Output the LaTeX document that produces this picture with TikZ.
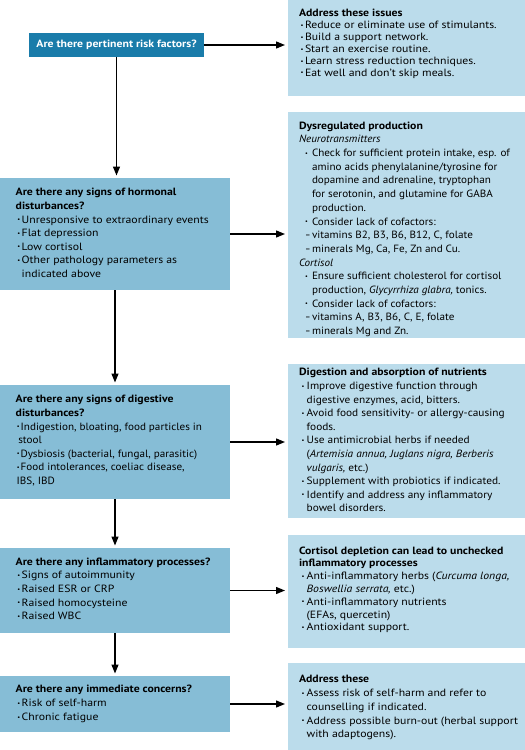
\documentclass[tikz,border=0pt]{standalone}
\usepackage{fontspec}
\setmainfont{PT Sans}[FakeStretch=1.12]
\newfontfamily\fsA{PT Sans}[FakeStretch=1.06]
\newfontfamily\fsB{PT Sans}[FakeStretch=1.08]
\usetikzlibrary{arrows.meta}
\definecolor{darkb}{RGB}{26,124,170}
\definecolor{midb}{RGB}{134,189,214}
\definecolor{lightb}{RGB}{187,220,235}
\newlength\bulOff
\newlength\bulW
\newlength\totOff
\newcommand\bulg{\raisebox{0.25ex}{\scalebox{0.55}{\textbullet}}}
\newcommand\Lh[1]{\hbox{#1}}
\newcommand\Lb[1]{\hbox{\hskip\bulOff\hbox to \bulW{\bulg\hss}#1}}
\newcommand\Lc[1]{\hbox{\hskip\totOff #1}}
\newcommand\Ld[1]{\hbox{\hskip\bulOff\hbox to \bulW{\scalebox{0.75}[1]{–}\hss}#1}}
\newcommand\Lx[2]{\hbox{\hskip#1pt #2}}
\newcommand\txtblk[4]{\vtop{\fontsize{10.5pt}{#1pt}\selectfont
  \setlength\bulOff{#2pt}\setlength\totOff{#3pt}%
  \setlength\bulW{\dimexpr\totOff-\bulOff\relax}%
  #4}}
\begin{document}
\begin{tikzpicture}[x=1pt,y=-1pt,
  box/.style={anchor=north west, inner sep=0pt, outer sep=0pt, draw=none},
  rbox/.style={box, fill=lightb},
  lbox/.style={box, fill=midb},
  tbox/.style={box, fill=darkb, text=white, font=\fontsize{10.5pt}{12pt}\selectfont\bfseries},
  txt/.style={anchor=base west, inner sep=0pt, outer sep=0pt},
  conn/.style={line width=1.3pt, -{Triangle[length=9pt,width=7pt]}},
]
\useasboundingbox (0,0) rectangle (525,750);
% right boxes
\node[rbox, minimum width=237pt, minimum height=96pt] (R1) at (288,0) {};
\node[rbox, minimum width=237pt, minimum height=226pt] (R2) at (288,112) {};
\node[rbox, minimum width=237pt, minimum height=154pt] (R3) at (288,364) {};
\node[rbox, minimum width=237pt, minimum height=113pt] (R4) at (288,535) {};
\node[rbox, minimum width=237pt, minimum height=87pt] (R5) at (288,663) {};
% left boxes
\node[tbox, minimum width=175pt, minimum height=24pt] (T) at (29,33) {Are there pertinent risk factors?};
\node[lbox, minimum width=230pt, minimum height=112pt] (H) at (0,178) {};
\node[lbox, minimum width=230pt, minimum height=114pt] (D) at (0,385) {};
\node[lbox, minimum width=230pt, minimum height=85pt] (I) at (0,548) {};
\node[lbox, minimum width=230pt, minimum height=56pt] (M) at (0,676) {};
% connectors
\draw[conn, shorten >=3pt] (T.east) -- (T.east -| R1.west);
\draw[conn, shorten >=3pt] (H.east) -- (H.east -| R2.west);
\draw[conn, shorten >=3pt] (D.east) -- (D.east -| R3.west);
\draw[conn, shorten >=3pt] (I.east) -- (I.east -| R4.west);
\draw[conn, shorten >=3pt] (M.east) -- (M.east -| R5.west);
\draw[conn, shorten >=2.5pt] (T.south) -- (T.south |- H.north);
\draw[conn, shorten >=2.5pt] (H.south) -- (D.north);
\draw[conn, shorten >=2.5pt] (D.south) -- (I.north);
\draw[conn, shorten >=2.5pt] (I.south) -- (M.north);
% right texts
\node[txt] (tR1) at (299,16.8) {\txtblk{11.9}{1.7}{6}{%
\Lh{\textbf{Address these issues}}
\Lb{Reduce or eliminate use of stimulants.}
\Lb{Build a support network.}
\Lb{Start an exercise routine.}
\Lb{Learn stress reduction techniques.}
\Lb{Eat well and don’t skip meals.}}};
\node[txt] (tR2) at (299,129.2) {\txtblk{13.69}{6}{13}{%
\Lh{\textbf{Dysregulated production}}
\fsA
\Lh{\textit{Neurotransmitters}}
\Lb{Check for sufficient protein intake, esp. of}
\Lc{amino acids phenylalanine/tyrosine for}
\Lc{dopamine and adrenaline, tryptophan}
\Lc{for serotonin, and glutamine for GABA}
\Lc{production.}
\Lb{Consider lack of cofactors:}
\Ld{vitamins B2, B3, B6, B12, C, folate}
\Ld{minerals Mg, Ca, Fe, Zn and Cu.}
\Lh{\textit{Cortisol}}
\Lb{Ensure sufficient cholesterol for cortisol}
\Lc{production, \textit{Glycyrrhiza glabra,} tonics.}
\Lb{Consider lack of cofactors:}
\Ld{vitamins A, B3, B6, C, E, folate}
\Ld{minerals Mg and Zn.}}};
\node[txt] (tR3) at (299,375.8) {\txtblk{13.6}{2.7}{7.7}{%
\Lh{\textbf{Digestion and absorption of nutrients}}
\fsB
\Lb{Improve digestive function through}
\Lc{digestive enzymes, acid, bitters.}
\Lb{Avoid food sensitivity- or allergy-causing}
\Lc{foods.}
\Lb{Use antimicrobial herbs if needed}
\Lc{(\textit{Artemisia annua, Juglans nigra, Berberis}}
\Lc{\textit{vulgaris,} etc.)}
\Lb{Supplement with probiotics if indicated.}
\Lb{Identify and address any inflammatory}
\Lc{bowel disorders.}}};
\node[txt] (tR4) at (299,554.2) {\txtblk{12.76}{2.7}{7.7}{%
\Lh{\textbf{Cortisol depletion can lead to unchecked}}
\Lh{\textbf{inflammatory processes}}
\Lb{Anti-inflammatory herbs (\textit{Curcuma longa,}}
\Lc{\textit{Boswellia serrata,} etc.)}
\Lb{Anti-inflammatory nutrients}
\Lc{(EFAs, quercetin)}
\Lb{Antioxidant support.}}};
\node[txt] (tR5) at (299,682.8) {\txtblk{13.75}{2.7}{7.7}{%
\Lh{\textbf{Address these}}
\Lb{Assess risk of self-harm and refer to}
\Lc{counselling if indicated.}
\Lb{Address possible burn-out (herbal support}
\Lc{with adaptogens).}}};
% left texts
\node[txt] (tH) at (15.7,195.8) {\txtblk{13.6}{1.6}{6}{%
\Lh{\textbf{Are there any signs of hormonal}}
\Lh{\textbf{disturbances?}}
\Lb{Unresponsive to extraordinary events}
\Lb{Flat depression}
\Lb{Low cortisol}
\Lb{Other pathology parameters as}
\Lc{indicated above}}};
\node[txt] (tD) at (15.7,402.8) {\txtblk{13.6}{1.2}{5}{%
\Lh{\textbf{Are there any signs of digestive}}
\Lh{\textbf{disturbances?}}
\fsA
\Lb{Indigestion, bloating, food particles in}
\Lx{2.6}{stool}
\Lb{Dysbiosis (bacterial, fungal, parasitic)}
\Lb{Food intolerances, coeliac disease,}
\Lx{1}{IBS, IBD}}};
\node[txt] (tI) at (15.7,565.2) {\txtblk{13.6}{1.6}{6}{%
\Lh{\textbf{Are there any inflammatory processes?}}
\Lb{Signs of autoimmunity}
\Lb{Raised ESR or CRP}
\Lb{Raised homocysteine}
\Lb{Raised WBC}}};
\node[txt] (tM) at (15.7,692.8) {\txtblk{14}{1.6}{6}{%
\Lh{\textbf{Are there any immediate concerns?}}
\Lb{Risk of self-harm}
\Lb{Chronic fatigue}}};
\end{tikzpicture}
\end{document}
